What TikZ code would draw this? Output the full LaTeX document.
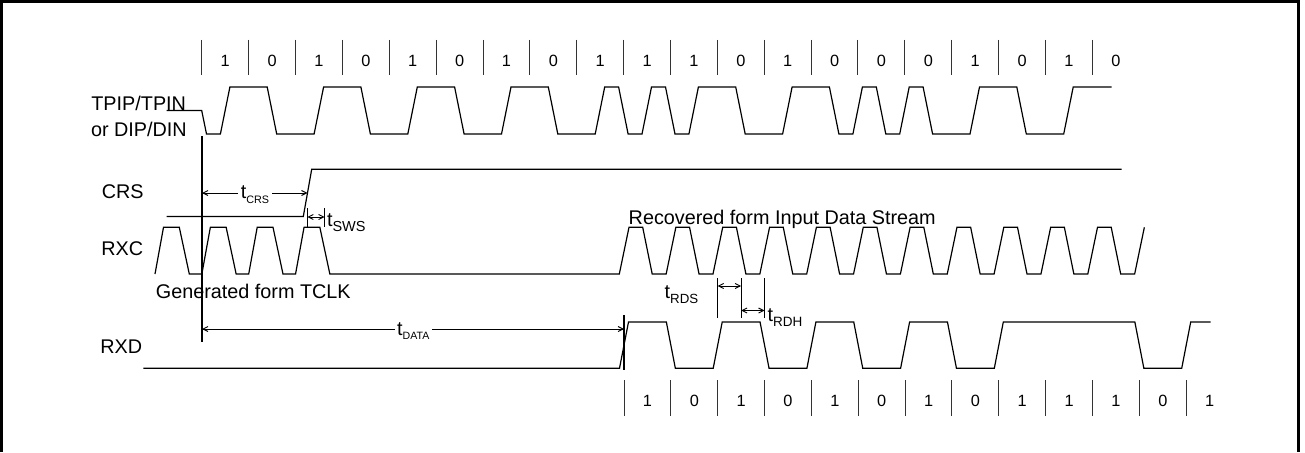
\documentclass[tikz,border=0pt]{standalone}
\usepackage{fontspec}
\setmainfont{Liberation Sans}
\usetikzlibrary{arrows.meta}
\newcommand{\lblfont}{\fontsize{19.8}{23}\selectfont}
\newcommand{\digfont}{\fontsize{16.3}{19}\selectfont}
\newcommand{\tlab}[3]{t\raisebox{-#2pt}{\fontsize{#1}{#1}\selectfont #3}}
\begin{document}
\begin{tikzpicture}[x=1pt,y=-1pt,
  sig/.style={line width=1.2pt},
  bar/.style={line width=1pt,black!80},
  dim/.style={line width=0.9pt,>={Straight Barb[length=5pt,width=5pt]},<->},
  lbl/.style={font=\lblfont,inner sep=0pt,anchor=base west},
  dig/.style={font=\digfont,inner sep=0pt,anchor=base},
  tl/.style={font=\lblfont,inner sep=0pt}]
\useasboundingbox (0,0) rectangle (1305,452);
% frame
\draw[line width=2.6pt] (1.3,452) -- (1.3,1.3) -- (1298.5,1.3) -- (1298.5,452);
\fill (441,0) rectangle (449,3.5);

% signal names
\node[lbl] (ntp) at (91.2,110) {TPIP/TPIN};
\node[lbl] (ndip) at (90.9,136.5) {or DIP/DIN};
\node[lbl] (ncrs) at (101.7,198.3) {CRS};
\node[lbl] (nrxc) at (101.2,255) {RXC};
\node[lbl] (nrxd) at (100.2,353) {RXD};
\node[lbl] (ngen) at (155.7,298) {Generated form TCLK};
\node[lbl] (nrec) at (628.5,224) {Recovered form Input Data Stream};

% top bit grid
\foreach \k in {0,...,19} \draw[bar] ({201.8+46.87*\k},40) -- ++(0,35);
\foreach \b [count=\i from 0] in {1,0,1,0,1,0,1,0,1,1,1,0,1,0,0,0,1,0,1,0}
  \node[dig] (td\i) at ({201.8+46.87*(\i+0.5)},66.7) {\b};

% bottom bit grid
\foreach \k in {0,...,12} \draw[bar] ({624+46.85*\k},380) -- ++(0,36);
\foreach \b [count=\i from 0] in {1,0,1,0,1,0,1,0,1,1,1,0,1}
  \node[dig] (bd\i) at ({624+46.85*(\i+0.5)},406.7) {\b};

% TPIP / TPIN
\draw[sig] (166.7,110.5) -- (201.7,110.5) -- (206.5,134) -- (220.4,134) -- (229.9,87) -- (267.2,87) -- (276.7,134) -- (314.1,134) -- (323.6,87) -- (360.9,87) -- (370.4,134) -- (407.8,134) -- (417.3,87) -- (454.6,87) -- (464.1,134) -- (501.5,134) -- (511,87) -- (548.3,87) -- (557.8,134) -- (595.2,134) -- (604.7,87) -- (618.6,87) -- (628.1,134) -- (642,134) -- (651.5,87) -- (665.5,87) -- (675,134) -- (688.9,134) -- (698.4,87) -- (735.7,87) -- (745.2,134) -- (782.6,134) -- (792.1,87) -- (829.4,87) -- (838.9,134) -- (852.9,134) -- (862.4,87) -- (876.3,87) -- (885.8,134) -- (899.7,134) -- (909.2,87) -- (923.1,87) -- (932.6,134) -- (970,134) -- (979.5,87) -- (1016.8,87) -- (1026.3,134) -- (1063.7,134) -- (1073.2,87) -- (1111.7,87);

% CRS
\draw[sig] (166.7,216.5) -- (303.3,216.5) -- (311.7,169.3) -- (1121.7,169.3);

% RXC
\draw[sig] (155,274) \foreach \s in {155,201.85,248.7,295.55}{ -- (\s,274) -- ({\s+8.5},227.3) -- ({\s+24.3},227.3) -- ({\s+34.3},274)} -- (619.3,274)
  \foreach \k in {0,...,10}{ -- ({619.3+46.85*\k},274) -- ({619.3+46.85*\k+9.7},227.3) -- ({619.3+46.85*\k+23.4},227.3) -- ({619.3+46.85*\k+32.9},274)} -- (1134.65,274) -- (1144.35,227.3);

% RXD
\draw[sig] (143.3,368.3) -- (619.5,368.3) -- (628.5,322) -- (666.35,322) -- (675.35,368.3) -- (713.2,368.3) -- (722.2,322) -- (760.05,322) -- (769.05,368.3) -- (806.9,368.3) -- (815.9,322) -- (853.75,322) -- (862.75,368.3) -- (900.6,368.3) -- (909.6,322) -- (947.45,322) -- (956.45,368.3) -- (994.3,368.3) -- (1003.3,322) -- (1134.85,322) -- (1143.85,368.3) -- (1181.7,368.3) -- (1190.7,322) -- (1210.7,322);

% reference lines
\coordinate (r0t) at (202,136);
\coordinate (r0b) at (202,342);
\draw[sig] (r0t) -- (r0b);
\coordinate (crsL) at (202,193);
\coordinate (crsR) at (307.5,193);
\draw[dim] (crsL) -- (crsR);
\node[tl,anchor=base,fill=white,inner xsep=2.5pt] (ltcrs) at (255,198) {\tlab{10.8}{5}{CRS}};

\coordinate (sw1t) at (307.3,208);
\coordinate (sw1b) at (307.3,227);
\coordinate (sw2t) at (324.6,208);
\coordinate (sw2b) at (324.6,227);
\draw[sig] (sw1t) -- (sw1b);
\draw[sig] (sw2t) -- (sw2b);
\draw[dim] (307.3,217) -- (324.6,217);
\node[tl,anchor=base west] (ltsws) at (326.8,226) {\tlab{14.5}{5.5}{SWS}};

\coordinate (dat2t) at (624,315);
\coordinate (dat2b) at (624,370);
\draw[sig] (dat2t) -- (dat2b);
\draw[dim] (202,329) -- (624,329);
\node[tl,anchor=base,fill=white,inner xsep=2.5pt] (ltdata) at (413.3,335) {\tlab{10.6}{4.3}{DATA}};

\draw[sig] (717.7,278) -- (717.7,318);
\draw[sig] (741.1,278) -- (741.1,318);
\draw[sig] (764.5,278) -- (764.5,318);
\draw[dim] (717.7,286) -- (741.1,286);
\draw[dim] (741.1,310.5) -- (764.5,310.5);
\node[tl,anchor=base west] (ltrds) at (664.5,298) {\tlab{13.3}{5.3}{RDS}};
\node[tl,anchor=base west] (ltrdh) at (767.5,321.7) {\tlab{13.5}{4.3}{RDH}};
\end{tikzpicture}
\end{document}
